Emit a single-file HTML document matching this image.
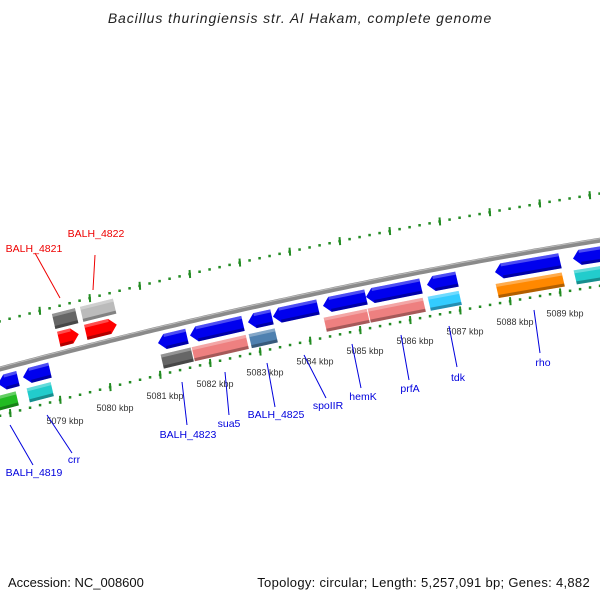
<!DOCTYPE html>
<html><head><meta charset="utf-8"><style>
body{margin:0;background:#fff}
svg{display:block;font-family:"Liberation Sans",sans-serif}
</style></head><body>
<svg id="c" width="600" height="600" viewBox="0 0 600 600">
<text x="300" y="23" text-anchor="middle" font-size="14" letter-spacing="0.9" font-style="italic" fill="#222">Bacillus thuringiensis str. Al Hakam, complete genome</text>
<g id="axes"></g>
<g id="genes"></g>
<g id="labels"></g>
<text x="8" y="587" font-size="13" fill="#111">Accession: NC_008600</text>
<text x="590" y="587" font-size="13" letter-spacing="0.3" fill="#111" text-anchor="end">Topology: circular; Length: 5,257,091 bp; Genes: 4,882</text>
</svg>
<script>
const tickKbp=[5077,5078,5079,5080,5081,5082,5083,5084,5085,5086,5087,5088,5089,5090,5091];
const tickLabels=["5079 kbp","5080 kbp","5081 kbp","5082 kbp","5083 kbp","5084 kbp","5085 kbp","5086 kbp","5087 kbp","5088 kbp","5089 kbp"];
const tickLabelKbp=[5079,5080,5081,5082,5083,5084,5085,5086,5087,5088,5089];
const geneNames=["BALH_4819","crr","BALH_4823","sua5","BALH_4825","spoIIR","hemK","prfA","tdk","rho","next-gene","BALH_4819-cds","crr-cds","BALH_4823-cds","sua5-cds","BALH_4825-cds","hemK-cds","prfA-cds","tdk-cds","rho-cds","next-cds","BALH_4821","BALH_4822","BALH_4821-cds","BALH_4822-cds"];
const geneStart=[5077.9,5078.4,5081.1,5081.74,5082.9,5083.4,5084.4,5085.26,5086.48,5087.84,5089.4,5077.7,5078.42,5081.1,5081.72,5082.86,5084.36,5085.24,5086.44,5087.8,5089.36,5079.24,5079.78,5079.22,5079.78];
const geneEnd=[5078.3,5078.94,5081.68,5082.8,5083.38,5084.3,5085.26,5086.36,5087.08,5089.14,5090.2,5078.2,5078.9,5081.7,5082.8,5083.38,5085.22,5086.34,5087.06,5089.12,5090.2,5079.64,5080.4,5079.68,5080.44];
const geneRow=[1,1,1,1,1,1,1,1,1,1,1,0,0,0,0,0,0,0,0,0,0,2,2,3,3];
const geneDir=[-1,-1,-1,-1,-1,-1,-1,-1,-1,-1,-1,0,0,0,0,0,0,0,0,0,0,1,1,0,0];
const geneColor=["#0000ee","#0000ee","#0000ee","#0000ee","#0000ee","#0000ee","#0000ee","#0000ee","#0000ee","#0000ee","#0000ee","#22bb22","#22cccc","#666666","#ee8080","#4f81b0","#ee8080","#ee8080","#33ccff","#ff8800","#22cccc","#ff0000","#ff0000","#666666","#bbbbbb"];

const NS="http://www.w3.org/2000/svg";
const rowOff=[[5,19],[23,38],[50,65],[68,83]];
function xl(k){return 60+50*(k-5079);}
function ylow(x){return 415.7-0.2695*x+0.0000883*x*x;}
function pt(k,off){const x=xl(k);return [x-off*0.23,ylow(x)-off];}
function mk(tag,attrs,parent){const e=document.createElementNS(NS,tag);for(const a in attrs)e.setAttribute(a,attrs[a]);parent.appendChild(e);return e;}
const axes=document.getElementById('axes');
let d="";for(let k=5077.5;k<=5091.5;k+=0.1){const p=pt(k,44);d+=(d?"L":"M")+p[0].toFixed(1)+","+p[1].toFixed(1);}
const bb=mk('path',{d:d,stroke:'#8a8a8a','stroke-width':5,fill:'none'},axes);


let d2="";for(let k=5077.5;k<=5091.5;k+=0.1){const p=pt(k,45.5);d2+=(d2?"L":"M")+p[0].toFixed(1)+","+p[1].toFixed(1);}
mk('path',{d:d2,stroke:'#bbbbbb','stroke-width':1,fill:'none'},axes);
[0,89].forEach(function(off,li){
  for(let i=0;i<=75;i++){const k=5077+i*0.2;const p=pt(k,off);if(p[0]<-5||p[0]>605)continue;
    const r=mk('rect',{x:p[0]-1.2,y:p[1]-1.2,width:2.5,height:2.5,fill:'#228b22'},axes);
    
    }
  tickKbp.forEach(function(k){const p=pt(k,off);
    const l=mk('line',{x1:p[0],y1:p[1]-4,x2:p[0]+0.6,y2:p[1]+4,stroke:'#228b22','stroke-width':2},axes);
    
    });
});
tickLabelKbp.forEach(function(k,i){const p=pt(k,0);
  const t=mk('text',{x:p[0]+5,y:p[1]+24,'font-size':9,fill:'#333','text-anchor':'middle'},axes);
  t.textContent=tickLabels[i];
  
  });
const G=document.getElementById('genes');
geneNames.forEach(function(n,i){
  const o=rowOff[geneRow[i]],s=geneStart[i],e=geneEnd[i],h=0.14;
  const b=o[0],t=o[1],m=(b+t)/2;let pts;
  if(geneDir[i]<0) pts=[pt(s,m),pt(s+h,t),pt(e,t),pt(e,b),pt(s+h,b)];
  else if(geneDir[i]>0) pts=[pt(s,t),pt(e-h,t),pt(e,m),pt(e-h,b),pt(s,b)];
  else pts=[pt(s,t),pt(e,t),pt(e,b),pt(s,b)];
  const g=mk('g',{},G);
  
  
  mk('polygon',{points:pts.map(p=>p.join(',')).join(' '),fill:geneColor[i]},g);
  const q=[pt(s+(geneDir[i]<0?h:0),b+3),pt(e-(geneDir[i]>0?h:0),b+3),pt(e-(geneDir[i]>0?h:0),b),pt(s+(geneDir[i]<0?h:0),b)];
  mk('polygon',{points:q.map(p=>p.join(',')).join(' '),fill:'#000','fill-opacity':0.3},g);
  const q2=[pt(s+(geneDir[i]<0?h:0),t),pt(e-(geneDir[i]>0?h:0),t),pt(e-(geneDir[i]>0?h:0),t-3),pt(s+(geneDir[i]<0?h:0),t-3)];
  mk('polygon',{points:q2.map(p=>p.join(',')).join(' '),fill:'#fff','fill-opacity':0.3},g);
});
const labs=[["BALH_4819",10,425,33,465,34,476,"#0000dd"],["crr",47,415,72,453,74,463,"#0000dd"],["BALH_4823",182,382,187,425,188,438,"#0000dd"],["sua5",225,372,229,415,229,427,"#0000dd"],["BALH_4825",267,363,275,407,276,418,"#0000dd"],["spoIIR",304,355,326,398,328,409,"#0000dd"],["hemK",352,344,361,388,363,400,"#0000dd"],["prfA",401,335,409,380,410,392,"#0000dd"],["tdk",449,326,457,367,458,381,"#0000dd"],["rho",534,310,540,353,543,366,"#0000dd"],["BALH_4821",35,253,60,298,34,252,"#ee0000"],["BALH_4822",95,255,93,290,96,237,"#ee0000"]];
const L=document.getElementById('labels');
labs.forEach(function(a){
  const g=mk('g',{},L);
  
  
  mk('line',{x1:a[1],y1:a[2],x2:a[3],y2:a[4],stroke:a[7],'stroke-width':1},g);
  const t=mk('text',{x:a[5],y:a[6],'font-size':10.5,fill:a[7],'text-anchor':'middle'},g);
  t.textContent=a[0];
});
</script>
</body></html>
